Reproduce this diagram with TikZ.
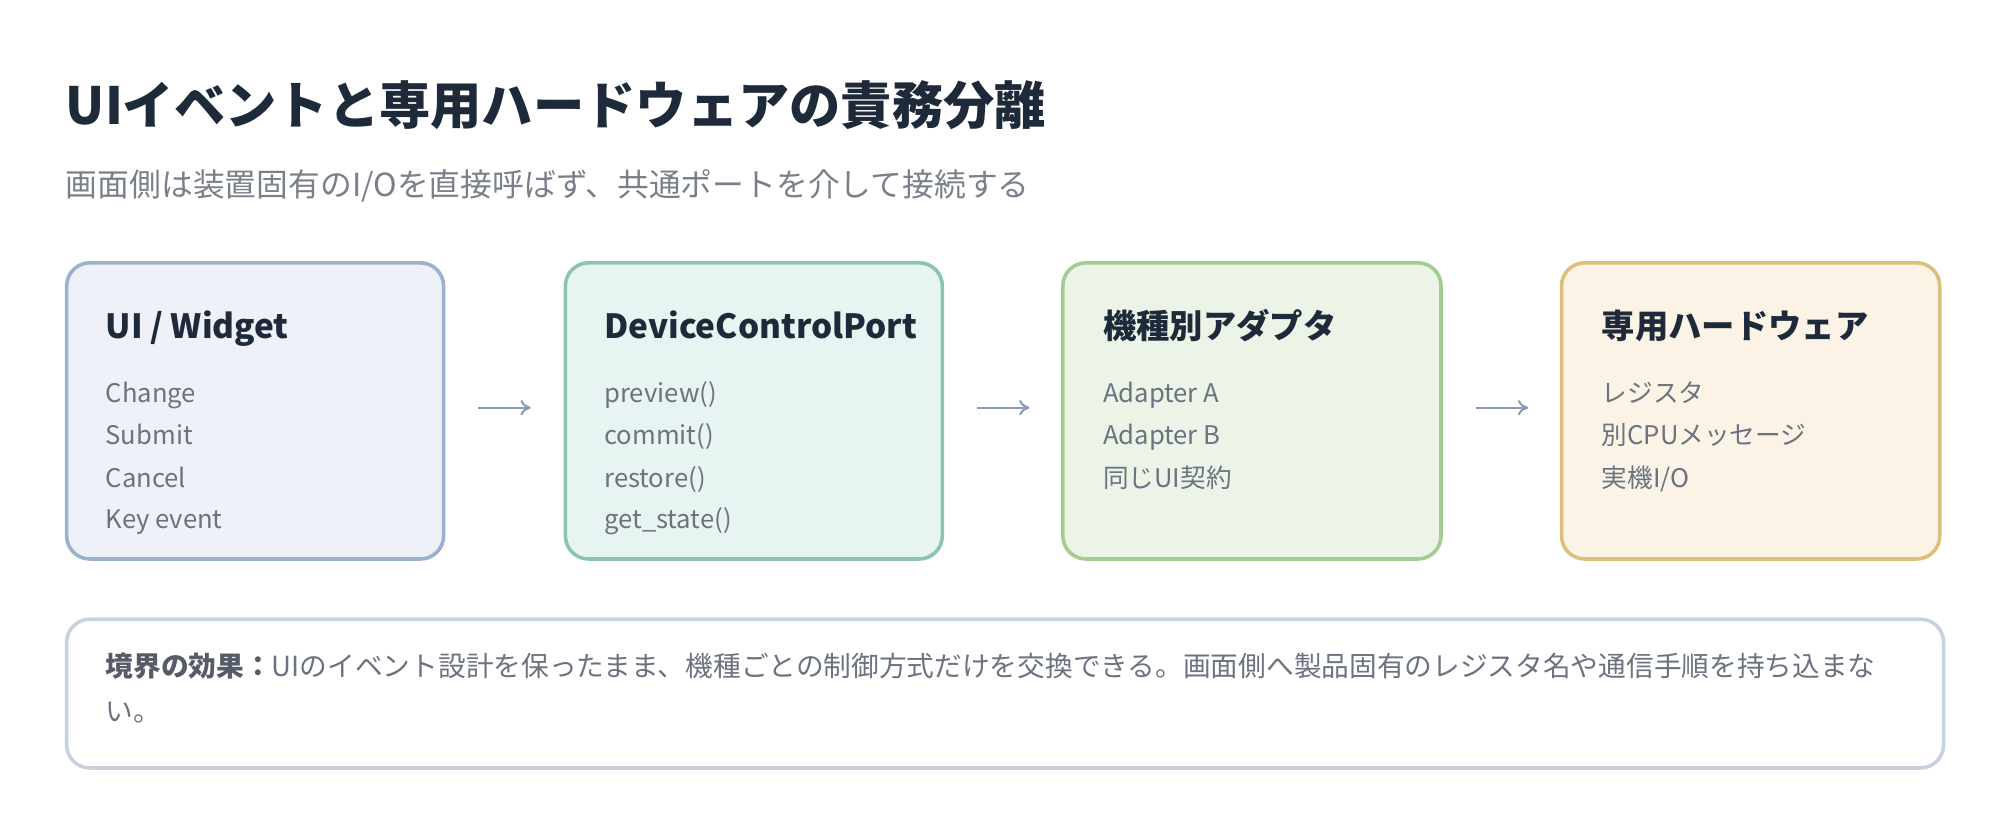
\documentclass[tikz,border=0pt]{standalone}
\usepackage{fontspec}
\usetikzlibrary{arrows.meta}
\setmainfont{Noto Sans CJK JP}
\begin{document}
\begin{tikzpicture}[x=0.5pt,y=-0.5pt,
  box/.style={rounded corners=9pt,line width=1.4pt},
  head/.style={anchor=base west,font=\fontsize{13}{15}\selectfont\bfseries,text=titlec,inner sep=0},
  item/.style={anchor=base west,font=\fontsize{10}{12}\selectfont,text=itemc,inner sep=0},
  arr/.style={-{To[length=4pt,width=6pt]},draw=arrc,line width=0.8pt}]
\definecolor{titlec}{HTML}{1E2A3A}
\definecolor{itemc}{HTML}{6B7380}
\definecolor{subc}{HTML}{7A808A}
\definecolor{arrc}{HTML}{8A9BB8}
\useasboundingbox (0,0) rectangle (1560,649);
\node[anchor=base west,inner sep=0,font=\fontsize{20}{24}\selectfont\bfseries,text=titlec] (t) at (51,97) {UIイベントと専用ハードウェアの責務分離};
\node[anchor=base west,inner sep=0,font=\fontsize{12.4}{15}\selectfont,text=subc] (s) at (51,153) {画面側は装置固有のI/Oを直接呼ばず、共通ポートを介して接続する};
\definecolor{f1}{HTML}{EEF2F8}\definecolor{d1}{HTML}{9DB0CF}
\definecolor{f2}{HTML}{E8F4F1}\definecolor{d2}{HTML}{8CC4B4}
\definecolor{f3}{HTML}{EBF4E6}\definecolor{d3}{HTML}{A5CC90}
\definecolor{f4}{HTML}{FBF3E6}\definecolor{d4}{HTML}{DCC07E}
\draw[box,fill=f1,draw=d1] (52,205) rectangle (346,436);
\draw[box,fill=f2,draw=d2] (441,205) rectangle (735,436);
\draw[box,fill=f3,draw=d3] (829,205) rectangle (1124,436);
\draw[box,fill=f4,draw=d4] (1218,205) rectangle (1513,436);
\node[head] (h1) at (82,264) {UI / Widget};
\node[item] (a1) at (82,314) {Change};
\node[item] (a2) at (82,347) {Submit};
\node[item] (a3) at (82,380) {Cancel};
\node[item] (a4) at (82,412) {Key event};
\node[head] (h2) at (471,264) {DeviceControlPort};
\node[item] (b1) at (471,314) {preview()};
\node[item] (b2) at (471,347) {commit()};
\node[item] (b3) at (471,380) {restore()};
\node[item] (b4) at (471,412) {get\_state()};
\node[head] (h3) at (860,264) {機種別アダプタ};
\node[item] (c1) at (860,314) {Adapter A};
\node[item] (c2) at (860,347) {Adapter B};
\node[item] (c3) at (860,380) {同じUI契約};
\node[head] (h4) at (1249,264) {専用ハードウェア};
\node[item] (d1n) at (1249,314) {レジスタ};
\node[item] (d2n) at (1249,347) {別CPUメッセージ};
\node[item] (d3n) at (1249,380) {実機I/O};
\coordinate (p1) at (373,318); \coordinate (q1) at (414,318);
\coordinate (p2) at (762,318); \coordinate (q2) at (803,318);
\coordinate (p3) at (1151,318); \coordinate (q3) at (1192,318);
\draw[arr] (p1) -- (q1);
\draw[arr] (p2) -- (q2);
\draw[arr] (p3) -- (q3);
\definecolor{fb}{HTML}{C8D2DE}
\draw[box,draw=fb,fill=white] (52,483) rectangle (1516,599);
\node[inner sep=0,text=itemc,anchor=north west,align=left,font=\fontsize{10.8}{17.5}\selectfont] (f) at (82,509) {{\bfseries\color{itemc!80!black}境界の効果：}UIのイベント設計を保ったまま、機種ごとの制御方式だけを交換できる。画面側へ製品固有のレジスタ名や通信手順を持ち込まな\\い。};
\end{tikzpicture}
\end{document}
